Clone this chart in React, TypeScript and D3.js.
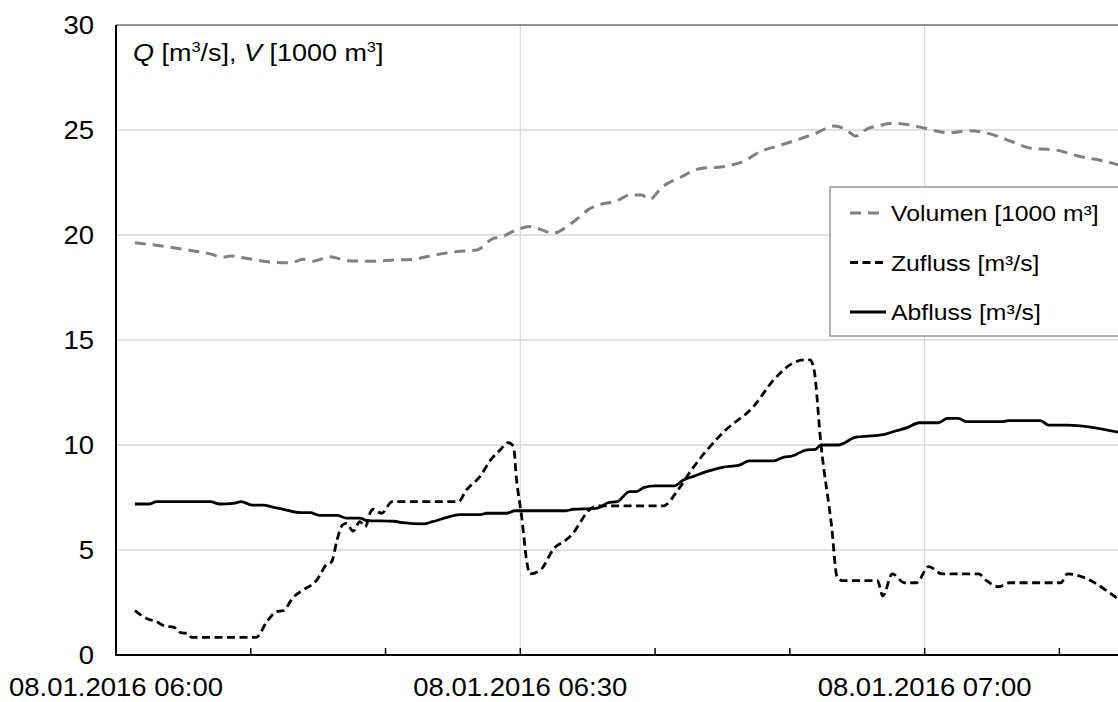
import React, { useEffect, useRef } from 'react';
import * as d3 from 'd3';

// minutes after 06:00 on 08.01.2016, value
const volumen: [number, number][] = [
  [1.4, 19.63], [3.8, 19.44], [5.3, 19.29], [7.0, 19.1], [7.9, 18.94], [8.5, 19.0],
  [9.9, 18.87], [11.4, 18.71], [12.9, 18.68], [13.9, 18.84], [14.6, 18.75], [15.9, 18.97],
  [17.1, 18.78], [19.1, 18.75], [20.6, 18.81], [22.0, 18.84], [23.5, 19.03], [25.3, 19.21],
  [26.8, 19.29], [28.0, 19.84], [28.5, 19.89], [29.7, 20.24], [30.7, 20.4], [31.5, 20.27],
  [32.4, 20.08], [33.8, 20.56], [35.2, 21.27], [37.3, 21.67], [38.1, 21.9], [39.0, 21.9],
  [39.6, 21.7], [40.5, 22.27], [41.9, 22.75], [43.4, 23.17], [45.0, 23.25], [46.6, 23.52],
  [47.8, 23.97], [48.9, 24.2], [50.1, 24.44], [51.9, 24.84], [53.3, 25.19], [54.2, 25.0],
  [54.9, 24.71], [55.8, 25.08], [56.5, 25.19], [57.7, 25.32], [58.9, 25.24], [60.0, 25.08],
  [61.8, 24.87], [63.3, 24.97], [64.7, 24.84], [66.5, 24.44], [67.9, 24.13], [69.7, 24.05],
  [71.4, 23.76], [73.5, 23.49], [74.9, 23.25],
];

const zufluss: [number, number][] = [
  [1.4, 2.11], [2.4, 1.7], [3.0, 1.59], [3.6, 1.38], [4.3, 1.32], [4.8, 1.06], [5.3, 1.03],
  [5.6, 0.84], [10.4, 0.84], [11.2, 1.59], [11.9, 2.06], [12.4, 2.11], [13.2, 2.78],
  [13.9, 3.1], [14.9, 3.57], [15.6, 4.29], [16.0, 4.44], [16.4, 5.48], [16.8, 6.19],
  [17.1, 6.27], [17.6, 5.9], [18.1, 6.35], [18.5, 6.11], [18.9, 6.83], [19.1, 6.94],
  [19.7, 6.75], [20.5, 7.3], [25.4, 7.3], [26.0, 7.86], [27.0, 8.49], [27.8, 9.29],
  [28.5, 9.76], [29.1, 10.11], [29.5, 9.92], [29.7, 8.49], [30.1, 6.59], [30.5, 4.37],
  [30.7, 3.86], [31.5, 4.05], [32.5, 5.08], [33.4, 5.48], [34.0, 5.87], [34.4, 6.27],
  [35.1, 6.9], [35.8, 7.1], [40.6, 7.1], [41.7, 7.86], [42.7, 8.81], [45.1, 10.63],
  [47.3, 11.83], [48.8, 13.1], [50.2, 13.89], [51.0, 14.05], [51.5, 14.05], [51.8, 13.57],
  [52.3, 10.08], [53.1, 6.11], [53.5, 3.73], [53.9, 3.54], [56.5, 3.54], [56.9, 2.81],
  [57.6, 3.86], [58.5, 3.44], [59.4, 3.44], [60.3, 4.21], [61.3, 3.86], [64.0, 3.86],
  [64.6, 3.54], [65.5, 3.25], [66.3, 3.44], [70.1, 3.44], [70.6, 3.86], [74.5, 2.59],
];

const abfluss: [number, number][] = [
  [1.4, 7.19], [2.5, 7.19], [3.0, 7.3], [7.0, 7.3], [7.7, 7.19], [8.7, 7.22], [9.3, 7.3],
  [10.1, 7.14], [10.9, 7.14], [11.7, 7.03], [12.4, 6.94], [13.7, 6.78], [14.4, 6.78],
  [15.1, 6.65], [16.4, 6.65], [17.1, 6.52], [18.1, 6.52], [18.6, 6.4], [20.6, 6.37],
  [21.3, 6.3], [22.8, 6.24], [23.5, 6.35], [24.5, 6.54], [25.5, 6.68], [27.0, 6.68],
  [27.5, 6.75], [29.0, 6.75], [29.6, 6.87], [33.4, 6.87], [33.9, 6.94], [35.6, 6.98],
  [36.0, 7.06], [36.5, 7.25], [37.2, 7.3], [38.1, 7.78], [38.6, 7.78], [39.2, 7.98],
  [40.0, 8.05], [41.4, 8.05], [42.1, 8.33], [42.9, 8.52], [43.8, 8.73], [45.0, 8.94],
  [46.2, 9.03], [47.0, 9.24], [48.8, 9.24], [49.5, 9.41], [50.2, 9.48], [51.2, 9.76],
  [51.9, 9.79], [52.3, 10.0], [53.6, 10.0], [54.9, 10.37], [56.0, 10.43], [57.1, 10.52],
  [57.9, 10.68], [58.7, 10.83], [59.6, 11.06], [61.0, 11.06], [61.7, 11.27], [62.5, 11.27],
  [63.1, 11.11], [65.8, 11.11], [66.2, 11.16], [68.6, 11.16], [69.2, 10.95], [70.6, 10.95],
  [74.5, 10.59],
];

const yTicks = [0, 5, 10, 15, 20, 25, 30];
const legendItems = ['Volumen [1000 m³]', 'Zufluss [m³/s]', 'Abfluss [m³/s]'];

const FONT = 'Liberation Sans, Arial, sans-serif';
const SX = 1.1; // text in the picture is slightly wide

export default function App() {
  const svgRef = useRef<SVGSVGElement>(null);

  useEffect(() => {
    const width = 1118;
    const height = 702;
    const left = 116, top = 25, bottom = 655;
    const start = new Date(2016, 0, 8, 6, 0);
    const end = new Date(2016, 0, 8, 7, 30);
    const toDate = (m: number) => new Date(start.getTime() + m * 60000);

    const svg = d3.select(svgRef.current)
      .attr('width', width)
      .attr('height', height);
    svg.selectAll('*').remove();

    const x = d3.scaleTime().domain([start, end]).range([left, left + 90 * 13.477]);
    const y = d3.scaleLinear().domain([0, 30]).range([bottom, top]);

    // gridlines
    svg.append('g')
      .selectAll('line')
      .data(yTicks.filter(d => d > 0 && d < 30))
      .join('line')
      .attr('x1', left).attr('x2', width)
      .attr('y1', d => y(d)).attr('y2', d => y(d))
      .attr('stroke', '#d9d9d9').attr('stroke-width', 1.3);

    // only the 30-min ticks that fall inside the picture
    const majors = x.ticks(d3.timeMinute.every(30)!).filter(d => x(d) < width);
    svg.append('g')
      .selectAll('line')
      .data(majors.filter(d => x(d) > left))
      .join('line')
      .attr('x1', d => x(d)).attr('x2', d => x(d))
      .attr('y1', top).attr('y2', bottom)
      .attr('stroke', '#d9d9d9').attr('stroke-width', 1.3);

    // frame
    svg.append('line')
      .attr('x1', left).attr('x2', width).attr('y1', top).attr('y2', top)
      .attr('stroke', '#262626').attr('stroke-width', 1);

    // series
    const line = d3.line<[number, number]>()
      .x(d => x(toDate(d[0])))
      .y(d => y(d[1]))
      .curve(d3.curveMonotoneX);

    svg.append('path').datum(volumen)
      .attr('fill', 'none').attr('stroke', '#808080').attr('stroke-width', 3)
      .attr('stroke-dasharray', '11,7').attr('d', line);
    svg.append('path').datum(zufluss)
      .attr('fill', 'none').attr('stroke', '#000').attr('stroke-width', 2.8)
      .attr('stroke-dasharray', '8,4.5').attr('d', line);
    svg.append('path').datum(abfluss)
      .attr('fill', 'none').attr('stroke', '#000').attr('stroke-width', 2.8)
      .attr('d', line);

    // axes
    svg.append('line')
      .attr('x1', left).attr('x2', left).attr('y1', top).attr('y2', bottom + 1)
      .attr('stroke', '#000').attr('stroke-width', 2);
    svg.append('line')
      .attr('x1', left - 1).attr('x2', width).attr('y1', bottom).attr('y2', bottom)
      .attr('stroke', '#000').attr('stroke-width', 2);

    svg.append('g')
      .selectAll('line')
      .data(x.ticks(d3.timeMinute.every(10)!).filter(d => x(d) > left && x(d) < width))
      .join('line')
      .attr('x1', d => x(d)).attr('x2', d => x(d))
      .attr('y1', bottom).attr('y2', bottom - 7)
      .attr('stroke', '#000').attr('stroke-width', 1.5);

    svg.append('g')
      .selectAll('text')
      .data(yTicks)
      .join('text')
      .attr('transform', d => `translate(94,${y(d)}) scale(${SX},1)`)
      .attr('dy', '0.36em')
      .attr('text-anchor', 'end')
      .attr('font-family', FONT).attr('font-size', 25)
      .text(d => d);

    const fmt = d3.timeFormat('%d.%m.%Y %H:%M');
    svg.append('g')
      .selectAll('text')
      .data(majors)
      .join('text')
      .attr('transform', d => `translate(${x(d)},696) scale(${SX},1)`)
      .attr('text-anchor', 'middle')
      .attr('font-family', FONT).attr('font-size', 25)
      .text(d => fmt(d));

    // axis title
    const title = svg.append('text')
      .attr('transform', `translate(133,61) scale(${SX},1)`)
      .attr('font-family', FONT).attr('font-size', 24.5);
    title.append('tspan').attr('font-style', 'italic').text('Q');
    title.append('tspan').text(' [m');
    title.append('tspan').attr('font-size', 15).attr('dy', -9).text('3');
    title.append('tspan').attr('dy', 9).text('/s], ');
    title.append('tspan').attr('font-style', 'italic').text('V');
    title.append('tspan').text(' [1000 m');
    title.append('tspan').attr('font-size', 15).attr('dy', -9).text('3');
    title.append('tspan').attr('dy', 9).text(']');

    // legend
    const lg = svg.append('g');
    lg.append('rect')
      .attr('x', 830).attr('y', 187).attr('width', 320).attr('height', 149)
      .attr('fill', '#fff').attr('stroke', '#898989').attr('stroke-width', 1.3);
    const styles = [
      { stroke: '#808080', dash: '11,7', w: 3 },
      { stroke: '#000', dash: '8,4.5', w: 2.8 },
      { stroke: '#000', dash: null, w: 2.8 },
    ];
    legendItems.forEach((name, i) => {
      const cy = 213 + i * 49.5;
      lg.append('line')
        .attr('x1', 850).attr('x2', 886).attr('y1', cy).attr('y2', cy)
        .attr('stroke', styles[i].stroke).attr('stroke-width', styles[i].w)
        .attr('stroke-dasharray', styles[i].dash);
      lg.append('text')
        .attr('transform', `translate(891,${cy}) scale(${SX},1)`)
        .attr('dy', '0.36em')
        .attr('font-family', FONT).attr('font-size', 22.5)
        .text(name);
    });
  }, []);

  return (
    <div style={{ position: 'absolute', left: 0, top: 0, width: 1118, height: 702, overflow: 'hidden', background: '#fff' }}>
      <svg ref={svgRef} style={{ display: 'block' }}></svg>
    </div>
  );
}
